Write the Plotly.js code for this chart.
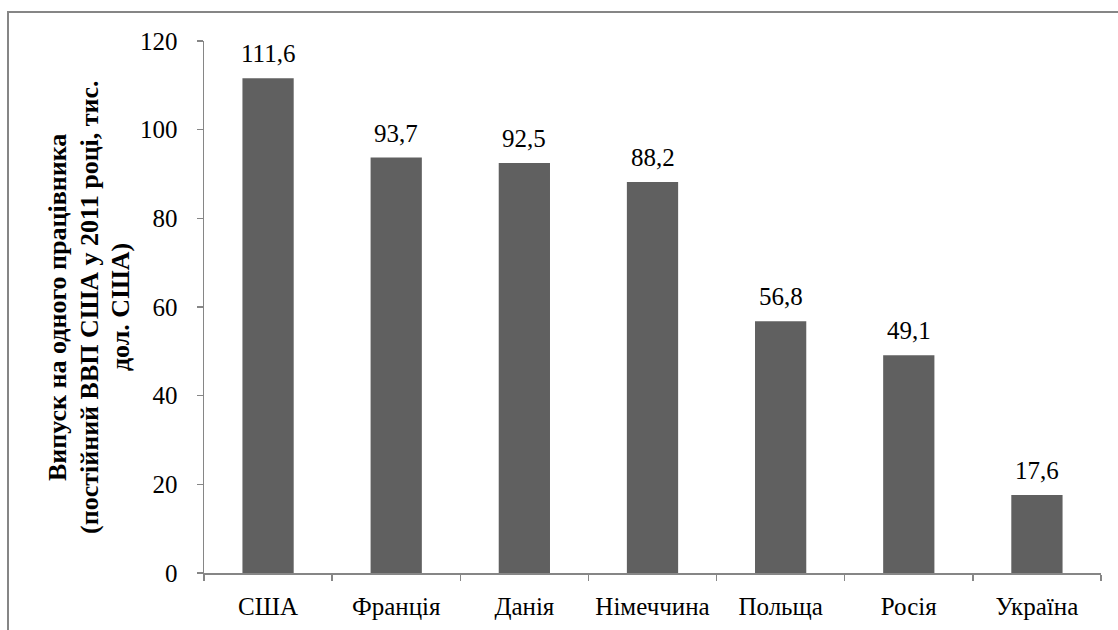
<!DOCTYPE html>
<html><head><meta charset="utf-8">
<script src="https://cdn.plot.ly/plotly-3.0.1.min.js"></script>
<style>html,body{margin:0;padding:0;background:#fff}#chart{width:1118px;height:630px}</style>
</head><body><div id="chart"></div>
<script>
var categories = ["США", "Франція", "Данія", "Німеччина", "Польща", "Росія", "Україна"];
var values = [111.6, 93.7, 92.5, 88.2, 56.8, 49.1, 17.6];
var yTicks = [0, 20, 40, 60, 80, 100, 120];
var yTitleLines = ["Випуск на одного працівника", "(постійний ВВП США у 2011 році, тис.", "дол. США)"];

var font = "Liberation Serif, Times New Roman, serif";
var axisColor = "#868686";
var fs = 25;

var trace = {
  type: "bar", x: categories, y: values,
  marker: {color: "#606060", line: {width: 0}},
  hoverinfo: "none"
};

var annotations = categories.map(function(c, i){
  return {x: c, y: values[i], xref: "x", yref: "y", text: values[i].toFixed(1).replace(".", ","),
    showarrow: false, yanchor: "bottom", yshift: 9, font: {family: font, size: fs, color: "#000"}};
});
var titleX = [-0.1639, -0.1282, -0.0936];
yTitleLines.forEach(function(t, i){
  annotations.push({x: titleX[i], y: 0.5, xref: "paper", yref: "paper", text: "<b>" + t + "</b>",
    textangle: -90, showarrow: false, xanchor: "center", yanchor: "middle",
    font: {family: font, size: 26, color: "#000"}});
});

var layout = {
  width: 1118, height: 630,
  margin: {l: 204, r: 17, t: 41, b: 57},
  paper_bgcolor: "#fff", plot_bgcolor: "#fff",
  bargap: 0.6, showlegend: false,
  font: {family: font, size: fs, color: "#000"},
  xaxis: {
    type: "category", showgrid: false, showline: true, linecolor: axisColor, linewidth: 1.5,
    ticks: "outside", tickson: "boundaries", ticklen: 6, tickcolor: axisColor, tickwidth: 1.5,
    tickfont: {family: font, size: fs, color: "#000"}, ticklabelstandoff: 10, zeroline: false
  },
  yaxis: {
    range: [0, 120], tickvals: yTicks, showgrid: false, showline: true, linecolor: axisColor, linewidth: 1.5,
    ticks: "outside", ticklen: 6, tickcolor: axisColor, tickwidth: 1.5, zeroline: false,
    tickfont: {family: font, size: fs, color: "#000"}, ticklabelstandoff: 14
  },
  annotations: annotations,
  shapes: [{type: "rect", xref: "paper", yref: "paper", x0: -0.2185, x1: 1.2, y0: -0.3, y1: 1.0545,
    line: {color: axisColor, width: 2}, fillcolor: "rgba(0,0,0,0)", layer: "below"}]
};

Plotly.newPlot("chart", [trace], layout, {displayModeBar: false, staticPlot: true});
</script></body></html>
